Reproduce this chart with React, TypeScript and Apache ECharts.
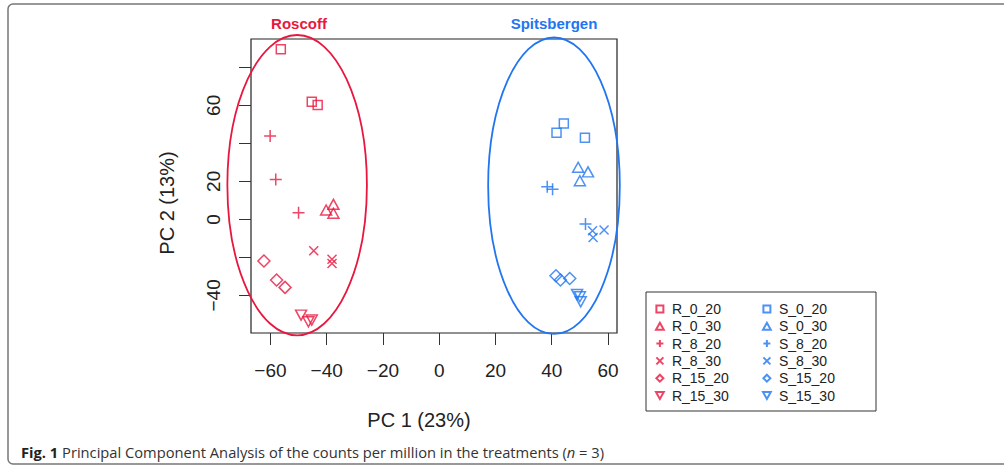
import React, { useEffect, useRef } from "react";
import * as echarts from "echarts";

const RED = "#E8173F";
const BLUE = "#2176F0";

const xTicks = [-60, -40, -20, 0, 20, 40, 60];
const yTicks = [-40, -20, 0, 20, 40, 60, 80];
const yLabelValues = [-40, 0, 20, 60];

const rNames = ["R_0_20", "R_0_30", "R_8_20", "R_8_30", "R_15_20", "R_15_30"];
const sNames = ["S_0_20", "S_0_30", "S_8_20", "S_8_30", "S_15_20", "S_15_30"];

const R_0_20 = [[-56.3, 89.5], [-45.3, 61.9], [-43.2, 60.2]];
const R_0_30 = [[-40.2, 4.9], [-37.6, 7.9], [-37.6, 3.2]];
const R_8_20 = [[-60.1, 43.8], [-58.1, 21.0], [-50.0, 3.5]];
const R_8_30 = [[-44.6, -16.5], [-38.1, -21.0], [-38.1, -23.2]];
const R_15_20 = [[-62.3, -21.9], [-57.8, -31.9], [-54.8, -35.8]];
const R_15_30 = [[-49.1, -50.4], [-46.5, -53.9], [-45.3, -53.0]];

const S_0_20 = [[41.7, 45.6], [44.3, 50.5], [51.8, 43.0]];
const S_0_30 = [[49.4, 27.4], [52.9, 25.0], [50.0, 20.3]];
const S_8_20 = [[38.4, 17.2], [40.3, 15.8], [52.0, -2.5]];
const S_8_30 = [[54.5, -6.0], [58.6, -5.6], [54.7, -9.5]];
const S_15_20 = [[41.5, -29.7], [43.1, -31.9], [46.4, -31.1]];
const S_15_30 = [[49.0, -39.5], [50.0, -40.7], [50.3, -43.4]];

// ellipse: [centerX, centerY, radiusX, radiusY] in data units
const ellipseGroups = ["Roscoff", "Spitsbergen"];
const ellipseData = [
  [-50.5, 18.0, 24.8, 79.0],
  [40.8, 17.7, 23.4, 78.0],
];

const PLUS = "path://M0,6L12,6M6,0L6,12";
const CROSS = "path://M0,0L10,10M0,10L10,0";

const markerDefs = [
  { symbol: "rect", size: 9, rotate: 0, icon: "path://M0,0L10,0L10,10L0,10Z" },
  { symbol: "triangle", size: [11, 10], rotate: 0, icon: "path://M5,0L10,9L0,9Z" },
  { symbol: PLUS, size: 12, rotate: 0, icon: PLUS },
  { symbol: CROSS, size: 9, rotate: 0, icon: CROSS },
  { symbol: "diamond", size: 12, rotate: 0, icon: "path://M5,0L10,5L5,10L0,5Z" },
  { symbol: "triangle", size: [11, 10], rotate: 180, icon: "path://M0,0L10,0L5,9Z" },
];

const rData = [R_0_20, R_0_30, R_8_20, R_8_30, R_15_20, R_15_30];
const sData = [S_0_20, S_0_30, S_8_20, S_8_30, S_15_20, S_15_30];

const FONT = "'Liberation Sans', Arial, Helvetica, sans-serif";
const minus = (v: number) => String(v).replace("-", "\u2212");

export default function App() {
  const ref = useRef<HTMLDivElement>(null);
  useEffect(() => {
    if (!ref.current) return;
    const chart = echarts.init(ref.current, null, { renderer: "svg" });

    const makeSeries = (names: string[], data: number[][][], color: string) =>
      names.map((name, i) => ({
        name,
        type: "scatter",
        data: data[i],
        symbol: markerDefs[i].symbol,
        symbolSize: markerDefs[i].size,
        symbolRotate: markerDefs[i].rotate,
        itemStyle: { color: "transparent", borderColor: color, borderWidth: 1.5 },
        z: 3,
      }));

    const legendData = (names: string[]) =>
      names.map((name, i) => ({ name, icon: markerDefs[i].icon }));

    const legendCommon = {
      orient: "vertical",
      itemWidth: 14,
      itemHeight: 7,
      itemGap: 3.3,
      padding: 0,
      selectedMode: false,
      symbolKeepAspect: true,
      textStyle: { fontFamily: FONT, fontSize: 14, color: "#222" },
    };

    chart.setOption({
      animation: false,
      backgroundColor: "#fff",
      grid: {
        left: 251,
        top: 39,
        width: 366,
        height: 294,
        show: true,
        borderColor: "#222",
        borderWidth: 1.2,
        backgroundColor: "transparent",
      },
      xAxis: {
        type: "value",
        min: -66.9,
        max: 63.2,
        splitLine: { show: false },
        axisLine: { show: false, onZero: false },
        axisTick: { show: true, inside: false, length: 12, customValues: xTicks, lineStyle: { color: "#333" } },
        axisLabel: {
          customValues: xTicks,
          formatter: (v: number) => minus(v),
          fontFamily: FONT,
          fontSize: 19,
          color: "#222",
          margin: 28,
        },
      },
      yAxis: {
        type: "value",
        min: -59.8,
        max: 94.9,
        splitLine: { show: false },
        axisLine: { show: false, onZero: false },
        axisTick: { show: true, inside: false, length: 12, customValues: yTicks, lineStyle: { color: "#333" } },
        axisLabel: {
          customValues: yLabelValues,
          formatter: (v: number) => minus(v),
          fontFamily: FONT,
          fontSize: 19,
          color: "#222",
          rotate: 90,
          margin: 28,
        },
      },
      legend: [
        { ...legendCommon, left: 655, top: 302, data: legendData(rNames) },
        { ...legendCommon, left: 762, top: 302, data: legendData(sNames) },
      ],
      series: [
        {
          type: "custom",
          name: "ellipses",
          silent: true,
          clip: false,
          z: 1,
          data: ellipseData,
          encode: { x: 0, y: 1 },
          renderItem: (params: any, api: any) => {
            const c = api.coord([api.value(0), api.value(1)]);
            const s = api.size([api.value(2), api.value(3)]);
            return {
              type: "ellipse",
              shape: { cx: c[0], cy: c[1], rx: s[0], ry: s[1] },
              style: { fill: "none", stroke: params.dataIndex === 0 ? RED : BLUE, lineWidth: 1.8 },
            };
          },
        },
        ...makeSeries(rNames, rData, RED),
        ...makeSeries(sNames, sData, BLUE),
      ],
      graphic: [
        {
          type: "rect",
          shape: { x: 8, y: 4, width: 1100, height: 460, r: 5 },
          style: { fill: "none", stroke: "#777", lineWidth: 1.5 },
          silent: true,
        },
        {
          type: "rect",
          shape: { x: 646, y: 292, width: 230, height: 119 },
          style: { fill: "none", stroke: "#333", lineWidth: 1 },
          silent: true,
        },
        {
          type: "text",
          x: 299,
          y: 23,
          style: {
            text: ellipseGroups[0],
            fill: RED,
            font: `bold 15px ${FONT}`,
            align: "center",
            verticalAlign: "middle",
          },
        },
        {
          type: "text",
          x: 554,
          y: 23,
          style: {
            text: ellipseGroups[1],
            fill: BLUE,
            font: `bold 15px ${FONT}`,
            align: "center",
            verticalAlign: "middle",
          },
        },
        {
          type: "text",
          x: 419,
          y: 420,
          style: {
            text: "PC 1 (23%)",
            fill: "#222",
            font: `20px ${FONT}`,
            align: "center",
            verticalAlign: "middle",
          },
        },
        {
          type: "text",
          x: 167,
          y: 203,
          rotation: Math.PI / 2,
          style: {
            text: "PC 2 (13%)",
            fill: "#222",
            font: `20px ${FONT}`,
            align: "center",
            verticalAlign: "middle",
          },
        },
        {
          type: "text",
          x: 21,
          y: 452,
          style: {
            text: "{b|Fig. 1} Principal Component Analysis of the counts per million in the treatments ({i|n} = 3)",
            fill: "#333",
            font: `14.7px 'Open Sans', sans-serif`,
            align: "left",
            verticalAlign: "middle",
            rich: {
              b: { fontWeight: "bold", fontFamily: "'Open Sans', sans-serif", fontSize: 14.7, fill: "#222" },
              i: { fontStyle: "italic", fontFamily: "'Open Sans', sans-serif", fontSize: 14.7, fill: "#333" },
            },
          },
        },
      ],
    });
    return () => chart.dispose();
  }, []);
  return (
    <div
      ref={ref}
      style={{ position: "absolute", left: 0, top: 0, width: 1004, height: 465 }}
    />
  );
}
